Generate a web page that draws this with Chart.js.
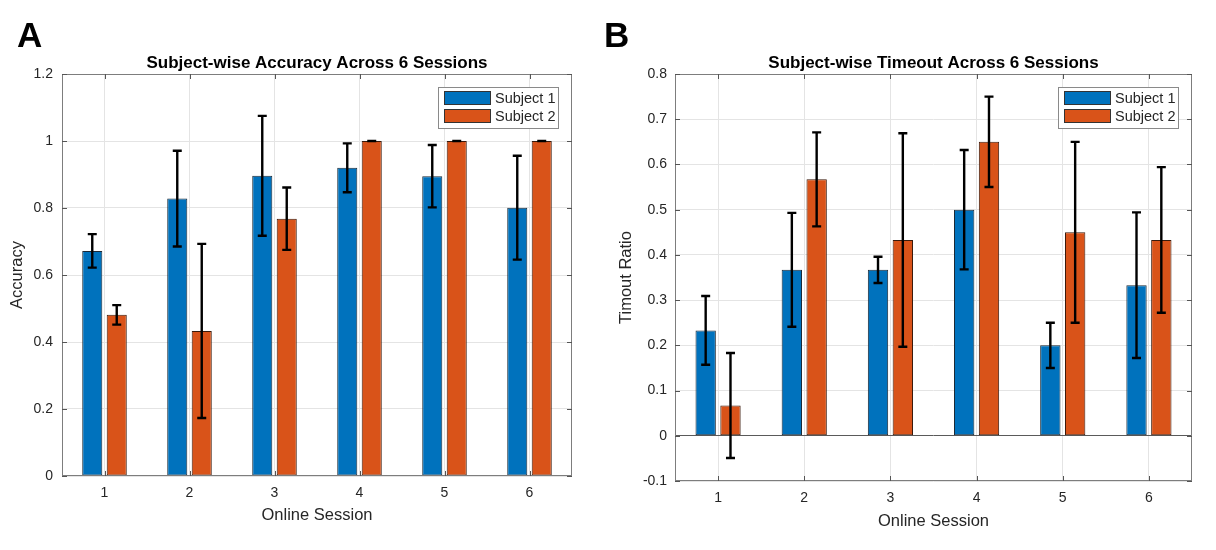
<!DOCTYPE html>
<html>
<head>
<meta charset="utf-8">
<title>Subject-wise Accuracy and Timeout Across 6 Sessions</title>
<script src="https://cdn.jsdelivr.net/npm/chart.js@4.4.1/dist/chart.umd.min.js"></script>
<style>
  html, body { margin: 0; padding: 0; background: #fff; }
  #wrap { position: relative; width: 1216px; height: 550px; overflow: hidden; background: #fff; }
  canvas { position: absolute; top: 0; }
  #accChart { left: 0; }
  #toChart { left: 600px; }
</style>
</head>
<body>
<div id="wrap">
  <canvas id="accChart" width="600" height="550"></canvas>
  <canvas id="toChart" width="616" height="550"></canvas>
</div>
<script>
var sessions = ['1', '2', '3', '4', '5', '6'];
var subjects = ['Subject 1', 'Subject 2'];

// accuracy, mean and +/- error
var accS1 = [0.672, 0.828, 0.896, 0.920, 0.895, 0.801];
var accS1Err = [0.050, 0.143, 0.179, 0.073, 0.093, 0.155];
var accS2 = [0.481, 0.433, 0.768, 1, 1, 1];
var accS2Err = [0.029, 0.260, 0.093, 0, 0, 0];

// timeout ratio, mean and +/- error
var toS1 = [0.233, 0.367, 0.367, 0.500, 0.200, 0.333];
var toS1Err = [0.076, 0.126, 0.029, 0.132, 0.050, 0.161];
var toS2 = [0.067, 0.567, 0.433, 0.650, 0.450, 0.433];
var toS2Err = [0.116, 0.104, 0.236, 0.100, 0.200, 0.161];

var accTicks = [0, 0.2, 0.4, 0.6, 0.8, 1, 1.2];
var toTicks = [-0.1, 0, 0.1, 0.2, 0.3, 0.4, 0.5, 0.6, 0.7, 0.8];

var blue = '#0072BD';
var orange = '#D95319';
var FONT = "'Liberation Sans', Arial, Helvetica, sans-serif";
var textCol = '#262626';

// matlab look: error bars, box with inward ticks, boxed legend, title, panel letter
var matlabPlot = {
    id: 'matlabPlot',
    afterDatasetsDraw: function(chart, args, opts) {
        var ctx = chart.ctx;
        var area = chart.chartArea;
        var ys = chart.scales.y;
        var xs = chart.scales.x;

        // error bars
        ctx.save();
        ctx.strokeStyle = '#000';
        ctx.lineWidth = 2.4;
        chart.data.datasets.forEach(function(ds, i) {
            var meta = chart.getDatasetMeta(i);
            meta.data.forEach(function(bar, j) {
                var v = ds.data[j], e = ds.errors[j];
                var x = bar.x;
                var yt = ys.getPixelForValue(v + e);
                var yb = ys.getPixelForValue(v - e);
                ctx.beginPath();
                ctx.moveTo(x, yt); ctx.lineTo(x, yb);
                ctx.moveTo(x - 4.5, yt); ctx.lineTo(x + 4.5, yt);
                ctx.moveTo(x - 4.5, yb); ctx.lineTo(x + 4.5, yb);
                ctx.stroke();
            });
        });
        ctx.restore();

        // box + inward ticks
        ctx.save();
        ctx.strokeStyle = '#7d7d7d';
        ctx.lineWidth = 1;
        ctx.strokeRect(area.left + 0.5, area.top + 0.5, area.right - area.left - 1, area.bottom - area.top - 1);
        ctx.strokeStyle = '#555';
        ctx.beginPath();
        ys.ticks.forEach(function(t) {
            var y = Math.round(ys.getPixelForValue(t.value)) + 0.5;
            ctx.moveTo(area.left, y); ctx.lineTo(area.left + 5, y);
            ctx.moveTo(area.right, y); ctx.lineTo(area.right - 5, y);
        });
        xs.ticks.forEach(function(t, k) {
            var x = Math.round(xs.getPixelForValue(k)) + 0.5;
            ctx.moveTo(x, area.bottom); ctx.lineTo(x, area.bottom - 5);
            ctx.moveTo(x, area.top); ctx.lineTo(x, area.top + 5);
        });
        ctx.stroke();
        ctx.restore();

        // legend
        var bw = 120, bh = 41;
        var lx = area.right - 14 - bw, ly = area.top + 13;
        ctx.save();
        ctx.fillStyle = '#fff';
        ctx.fillRect(lx, ly, bw, bh);
        ctx.strokeStyle = '#8a8a8a';
        ctx.strokeRect(lx + 0.5, ly + 0.5, bw, bh);
        ctx.font = '14.5px ' + FONT;
        ctx.textBaseline = 'middle';
        chart.data.datasets.forEach(function(ds, i) {
            var sy = ly + 4 + i * 18;
            ctx.fillStyle = ds.backgroundColor;
            ctx.fillRect(lx + 6, sy, 47, 14);
            ctx.strokeStyle = '#333';
            ctx.strokeRect(lx + 6.5, sy + 0.5, 46, 13);
            ctx.fillStyle = textCol;
            ctx.fillText(ds.label, lx + 57, sy + 7.5);
        });
        ctx.restore();
    },
    afterDraw: function(chart, args, opts) {
        var ctx = chart.ctx;
        var area = chart.chartArea;
        ctx.save();
        ctx.fillStyle = '#000';
        ctx.textAlign = 'center';
        ctx.textBaseline = 'alphabetic';
        ctx.font = 'bold 17px ' + FONT;
        ctx.fillText(opts.title, (area.left + area.right) / 2, area.top - 6);
        ctx.textAlign = 'left';
        ctx.font = 'bold 35px ' + FONT;
        ctx.fillText(opts.panel, opts.panelX, 47);
        ctx.restore();
    }
};

function makeChart(id, s1, e1, s2, e2, tickVals, yTitle, geo) {
    return new Chart(document.getElementById(id), {
        type: 'bar',
        data: {
            labels: sessions,
            datasets: [
                {label: subjects[0], data: s1, errors: e1, backgroundColor: blue,
                 borderColor: '#1c2a36', borderWidth: 1, borderSkipped: false},
                {label: subjects[1], data: s2, errors: e2, backgroundColor: orange,
                 borderColor: '#3a1a0c', borderWidth: 1, borderSkipped: false}
            ]
        },
        options: {
            responsive: false,
            animation: false,
            devicePixelRatio: 1,
            categoryPercentage: 0.576,
            barPercentage: 0.82,
            layout: {padding: {left: 0, right: geo.padRight, top: 74, bottom: 0}},
            plugins: {
                legend: {display: false},
                tooltip: {enabled: false},
                matlabPlot: {title: geo.title, panel: geo.panel, panelX: geo.panelX}
            },
            scales: {
                x: {
                    afterFit: function(scale) { scale.height = geo.xHeight; },
                    grid: {offset: false, drawTicks: false, color: '#e4e4e4'},
                    border: {display: false},
                    ticks: {padding: 9, color: textCol, font: {family: FONT, size: 14}},
                    title: {display: true, text: 'Online Session', color: textCol,
                            font: {family: FONT, size: 16.5}, padding: {top: 0, bottom: geo.xTitlePad}}
                },
                y: {
                    min: tickVals[0],
                    max: tickVals[tickVals.length - 1],
                    afterFit: function(scale) { scale.width = geo.yWidth; },
                    afterBuildTicks: function(scale) {
                        scale.ticks = tickVals.map(function(v) { return {value: v}; });
                    },
                    grid: {drawTicks: false, color: function(c) {
                        return (geo.zeroLine && c.tick && c.tick.value === 0) ? '#5a5a5a' : '#e4e4e4';
                    }},
                    border: {display: false},
                    ticks: {padding: geo.yTickPad, color: textCol, font: {family: FONT, size: 14},
                            callback: function(v) { return String(v); }},
                    title: {display: true, text: yTitle, color: textCol,
                            font: {family: FONT, size: 16.5}, padding: {top: geo.yTitlePad, bottom: 0}}
                }
            }
        },
        plugins: [matlabPlot]
    });
}

makeChart('accChart', accS1, accS1Err, accS2, accS2Err, accTicks, 'Accuracy',
    {padRight: 28, xHeight: 74, yWidth: 62, xTitlePad: 25, yTitlePad: 8, yTickPad: 9, zeroLine: false,
     title: 'Subject-wise Accuracy Across 6 Sessions', panel: 'A', panelX: 17});

makeChart('toChart', toS1, toS1Err, toS2, toS2Err, toTicks, 'Timout Ratio',
    {padRight: 24, xHeight: 69, yWidth: 75, xTitlePad: 19, yTitlePad: 17, yTickPad: 8, zeroLine: true,
     title: 'Subject-wise Timeout Across 6 Sessions', panel: 'B', panelX: 4});
</script>
</body>
</html>
